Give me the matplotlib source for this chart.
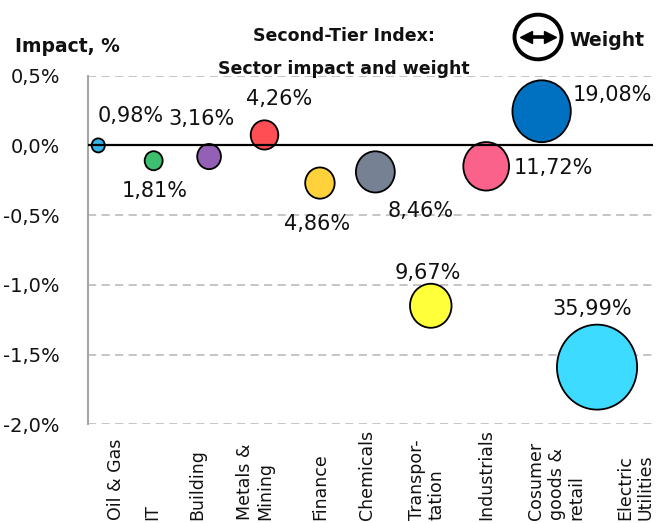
import matplotlib
matplotlib.use("Agg")
import matplotlib.pyplot as plt
import numpy as np
from matplotlib.path import Path
from matplotlib.markers import MarkerStyle
from matplotlib.patches import Ellipse
from matplotlib.lines import Line2D
from matplotlib.ticker import FuncFormatter, FixedLocator
import matplotlib.transforms as mtransforms

# ---- data ----
sectors = ["Oil & Gas", "IT", "Building", "Metals &\nMining", "Finance", "Chemicals",
           "Transpor-\ntation", "Industrials", "Cosumer\ngoods &\nretail", "Electric\nUtilities"]
impact = [0.00, -0.11, -0.08, 0.075, -0.27, -0.19, -1.15, -0.15, 0.245, -1.59]   # %
weight = [0.98, 1.81, 3.16, 4.26, 4.86, 8.46, 9.67, 11.72, 19.08, 35.99]          # %
weight_labels = ["0,98%", "1,81%", "3,16%", "4,26%", "4,86%", "8,46%", "9,67%", "11,72%", "19,08%", "35,99%"]
y_ticks = [0.5, 0.0, -0.5, -1.0, -1.5, -2.0]

# ---- styles / layout ----
colors = ["#35B3E8", "#3EBE6F", "#9360B6", "#FF4F55", "#FFD23C", "#768293",
          "#FFFF3A", "#FA618B", "#0070C0", "#3DDBFF"]
label_offsets = [(32, 29), (1, -30), (-8, 38), (15, 36), (-3, -41), (45, -39),
                 (-3, 33), (67, -2), (71, 16), (-5, 58)]   # pixels
tick_shift = [0.32, -0.03, -0.22, -0.17, 0.0, -0.15, -0.07, 0.01, 0.27, 0.69]
size_scale = 104.0

fig = plt.figure(figsize=(6.71, 5.23), dpi=100)
ax = fig.add_axes([0.1307, 0.1887, 0.8425, 0.6666])

xs = np.arange(1, len(sectors) + 1)

# slightly tall elliptical marker like the reference bubbles
circ = Path.unit_circle()
ell = Path(circ.vertices * np.array([1.0, 1.06]), circ.codes)
marker = MarkerStyle(ell)

ax.scatter(xs, impact, s=np.array(weight) * size_scale, c=colors, marker=marker,
           edgecolors="black", linewidths=1.3, zorder=3)
ax.axhline(0, color="black", lw=1.6, zorder=4)

for x, y, lab, (dx, dy) in zip(xs, impact, weight_labels, label_offsets):
    ax.annotate(lab, (x, y), xytext=(dx, dy), textcoords="offset pixels",
                ha="center", va="center", fontsize=15, color="#111111", zorder=5)

ax.set_xlim(0.81, 11.01)
ax.set_ylim(-2.0, 0.5)
ax.yaxis.set_major_locator(FixedLocator(y_ticks))
ax.yaxis.set_major_formatter(FuncFormatter(lambda v, p: f"{v:.1f}%".replace(".", ",")))
ax.tick_params(axis="y", length=0, pad=20, labelsize=14)
ax.set_xticks([])
for t in ax.get_yticklabels():
    t.set_color("#111111")

ax.grid(axis="y", color="#C0C0C0", lw=1.3, linestyle=(0, (4.5, 3)))
ax.set_axisbelow(True)
for side in ["top", "right", "bottom"]:
    ax.spines[side].set_visible(False)
ax.spines["left"].set_color("#A6A6A6")
ax.spines["left"].set_linewidth(1.5)

# category labels (rotated, bottom aligned)
trans = mtransforms.blended_transform_factory(ax.transData, fig.transFigure)
for x, name, sh in zip(xs, sectors, tick_shift):
    ax.text(x + sh, 3 / 523, name, rotation=90, transform=trans, ha="center", va="bottom",
            fontsize=12.5, linespacing=1.15, color="#111111", multialignment="left")

# titles
fig.text(15 / 671, 1 - 46 / 523, "Impact, %", fontsize=13.5, fontweight="bold",
         ha="left", va="center", color="#111111")
fig.text(344 / 671, 1 - 36 / 523, "Second-Tier Index:", fontsize=12.5, fontweight="bold",
         ha="center", va="center", color="#111111")
fig.text(344 / 671, 1 - 69 / 523, "Sector impact and weight", fontsize=12.5, fontweight="bold",
         ha="center", va="center", color="#111111")

# weight legend icon
cx, cy, r = 5.38, (523 - 37) / 100, 0.235
fig.add_artist(Ellipse((cx, cy), 2 * r, 2 * r * 0.95, transform=fig.dpi_scale_trans,
                       facecolor="white", edgecolor="black", lw=2.8))
fig.add_artist(Line2D([cx - 0.12, cx + 0.12], [cy, cy], transform=fig.dpi_scale_trans,
                      color="black", lw=2.6, solid_capstyle="butt"))
fig.add_artist(Line2D([cx - 0.12], [cy], transform=fig.dpi_scale_trans, marker="<",
                      markersize=8.5, color="black", lw=0))
fig.add_artist(Line2D([cx + 0.12], [cy], transform=fig.dpi_scale_trans, marker=">",
                      markersize=8.5, color="black", lw=0))
fig.text(569 / 671, 1 - 40 / 523, "Weight", fontsize=13.5, fontweight="bold",
         ha="left", va="center", color="#111111")

fig.savefig("out.png", dpi=100)
